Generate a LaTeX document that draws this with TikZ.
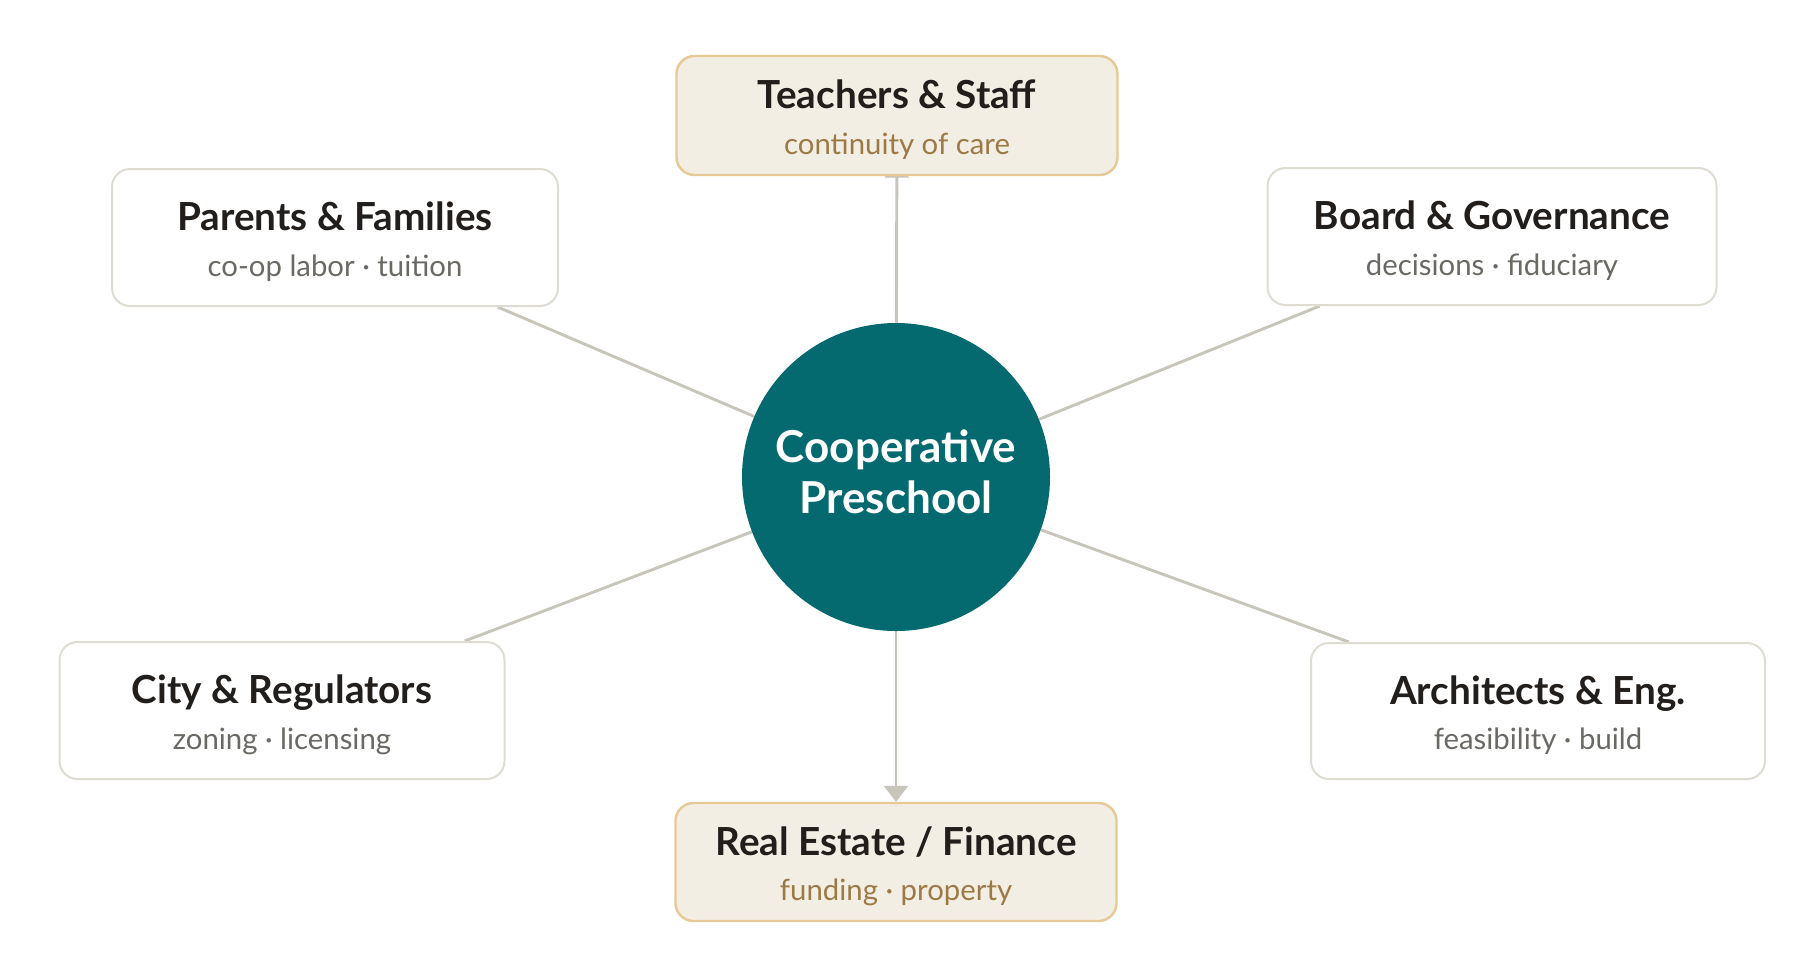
\documentclass[tikz,border=0pt]{standalone}
\usepackage{fontspec}
\setmainfont{Lato}
\usetikzlibrary{arrows.meta,backgrounds}

\definecolor{hubteal}{RGB}{4,106,111}
\definecolor{linkgray}{RGB}{200,197,186}
\definecolor{edgegray}{RGB}{223,220,211}
\definecolor{cream}{RGB}{243,238,227}
\definecolor{tan}{RGB}{230,201,150}
\definecolor{brownsub}{RGB}{155,122,70}
\definecolor{graysub}{RGB}{106,105,100}
\definecolor{ink}{RGB}{34,30,28}

\tikzset{
		hub/.style={circle, fill=hubteal, text=white, minimum size=231pt, inner sep=0pt, align=center, text height=56pt, text depth=2pt, font=\fontsize{33}{38}\selectfont\bfseries},
		party/.style={draw=edgegray, line width=1.5pt, fill=white, rounded corners=13.5pt, inner sep=0pt, align=center, text=ink, text height=62pt, text depth=4pt, font=\fontsize{29}{34}\selectfont\bfseries},
		keyparty/.style={party, draw=tan, line width=1.8pt, fill=cream},
		link/.style={linkgray, line width=2.2pt},
		arrow/.style={-{Triangle[width=18pt,length=12pt]}}
	}

\newcommand{\sub}[2]{{\fontsize{22}{34}\selectfont\mdseries\color{#1}#2}}

\begin{document}
\begin{tikzpicture}[x=0.75pt,y=-0.75pt]
	
	\useasboundingbox (0,0) rectangle (1800,965);
	
	\node (hub) at (896,477) [hub] {Cooperative\\Preschool};
	
	\node (staff) at (897,115.5) [keyparty, minimum width=330.75pt, minimum height=89.25pt] {Teachers \& Staff\\\sub{brownsub}{continuity of care}};
	\node (finance) at (896,862) [keyparty, minimum width=330.75pt, minimum height=88.5pt] {Real Estate / Finance\\\sub{brownsub}{funding · property}};
	
	\node (parents) at (335,237.5) [party, minimum width=334.5pt, minimum height=102.75pt] {Parents \& Families\\\sub{graysub}{co-op labor · tuition}};
	\node (board) at (1492,236.5) [party, minimum width=336.75pt, minimum height=102.75pt] {Board \& Governance\\\sub{graysub}{decisions · fiduciary}};
	
	\node (city) at (282,710.5) [party, minimum width=333.75pt, minimum height=102.75pt] {City \& Regulators\\\sub{graysub}{zoning · licensing}};
	\node (arch) at (1538,711) [party, minimum width=340.5pt, minimum height=102pt] {Architects \& Eng.\\\sub{graysub}{feasibility · build}};
	
	\begin{scope}[on background layer]
		\draw [link] (parents) -- (hub);
		\draw [link] (board) -- (hub);
		\draw [link] (city) -- (hub);
		\draw [link] (arch) -- (hub);
		\draw [link, arrow] (hub) -- (finance);
		\draw [link, arrow, shorten >=-11pt] (hub) -- (staff);
	\end{scope}
	
	\end{tikzpicture}
\end{document}
